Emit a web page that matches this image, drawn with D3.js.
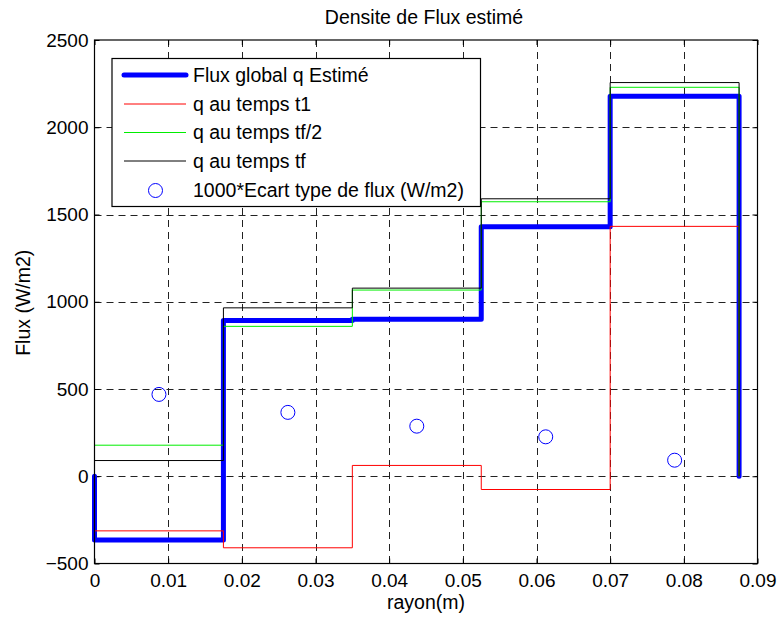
<!DOCTYPE html>
<html><head><meta charset="utf-8">
<script src="https://cdn.jsdelivr.net/npm/d3@7"></script>
<style>body{margin:0;background:#fff}svg{display:block;font-family:"Liberation Sans",Arial,sans-serif}</style>
</head><body><svg id="c" width="782" height="623"></svg>
<script>
const edges = [0, 0.0175, 0.035, 0.0525, 0.07, 0.0875];
const qEstime = [-365, 893, 900, 1430, 2177];
const qT1 = [-313, -410, 62, -76, 1432];
const qTf2 = [178, 859, 1067, 1573, 2229];
const qTf = [90, 965, 1078, 1590, 2256];
const ecartX = [0.00875, 0.02625, 0.04375, 0.06125, 0.07875];
const ecartY = [469, 366, 287, 226, 92];
const xTicks = [0, 0.01, 0.02, 0.03, 0.04, 0.05, 0.06, 0.07, 0.08, 0.09];
const yTicks = [-500, 0, 500, 1000, 1500, 2000, 2500];
const legendLabels = ["Flux global q Estimé", "q au temps t1", "q au temps tf/2", "q au temps tf", "1000*Ecart type de flux (W/m2)"];

const svg = d3.select("#c");
const L = 94.5, R = 757.5, T = 40, B = 563.5;
const x = d3.scaleLinear().domain([0, 0.09]).range([L, R]);
const y = d3.scaleLinear().domain([-500, 2500]).range([B, T]);

// grid
const g = svg.append("g");
g.selectAll(".gx").data(xTicks.slice(1, -1)).join("line")
  .attr("x1", d => Math.round(x(d)) + 0.5).attr("x2", d => Math.round(x(d)) + 0.5)
  .attr("y1", T).attr("y2", B).attr("stroke", "#222").attr("stroke-dasharray", "7,5");
g.selectAll(".gy").data(yTicks.slice(1, -1)).join("line")
  .attr("y1", d => Math.round(y(d)) + 0.5).attr("y2", d => Math.round(y(d)) + 0.5)
  .attr("x1", L).attr("x2", R).attr("stroke", "#222").attr("stroke-dasharray", "7,5");

// axes
const fsT = 19, fs = 19.5;
const xa = svg.append("g").attr("transform", `translate(0,${B})`)
  .call(d3.axisBottom(x).tickValues(xTicks).tickFormat(d => d === 0 ? "0" : d3.format(".2f")(d)).tickSizeInner(-5).tickSizeOuter(0).tickPadding(10));
const xt = svg.append("g").attr("transform", `translate(0,${T})`)
  .call(d3.axisTop(x).tickValues(xTicks).tickFormat("").tickSizeInner(-5).tickSizeOuter(0));
const ya = svg.append("g").attr("transform", `translate(${L},0)`)
  .call(d3.axisLeft(y).tickValues(yTicks).tickFormat(d3.format("d")).tickSizeInner(-5).tickSizeOuter(0).tickPadding(6));
const yr = svg.append("g").attr("transform", `translate(${R},0)`)
  .call(d3.axisRight(y).tickValues(yTicks).tickFormat("").tickSizeInner(-5).tickSizeOuter(0));
[xa, xt, ya, yr].forEach(a => {
  a.select(".domain").remove();
  a.selectAll("line").attr("stroke", "#000");
  a.selectAll("text").attr("font-size", fsT).attr("font-family", "Liberation Sans, Arial, sans-serif").attr("fill", "#000");
});

function stepPts(vals) {
  const p = [[edges[0], 0]];
  vals.forEach((v, i) => p.push([edges[i], v]));
  p.push([edges[edges.length - 1], 0]);
  return p;
}
const line = d3.line().x(d => x(d[0])).y(d => y(d[1])).curve(d3.curveStepAfter);

svg.append("path").attr("d", line(stepPts(qEstime))).attr("fill", "none")
  .attr("stroke", "#0000ff").attr("stroke-width", 5).attr("stroke-linejoin", "round").attr("stroke-linecap", "round");
svg.append("path").attr("d", line(stepPts(qT1))).attr("fill", "none").attr("stroke", "#ff0000").attr("stroke-width", 1);
svg.append("path").attr("d", line(stepPts(qTf2))).attr("fill", "none").attr("stroke", "#00ee00").attr("stroke-width", 1);
svg.append("path").attr("d", line(stepPts(qTf))).attr("fill", "none").attr("stroke", "#000").attr("stroke-width", 1);
svg.selectAll(".ec").data(ecartX).join("circle")
  .attr("cx", (d) => x(d)).attr("cy", (d, i) => y(ecartY[i])).attr("r", 7)
  .attr("fill", "none").attr("stroke", "#0000ff").attr("stroke-width", 1);

// box
svg.append("rect").attr("x", L).attr("y", T).attr("width", R - L).attr("height", B - T)
  .attr("fill", "none").attr("stroke", "#000").attr("stroke-width", 1.2);

// legend
const lg = svg.append("g");
lg.append("rect").attr("x", 112).attr("y", 58.5).attr("width", 368.5).attr("height", 148)
  .attr("fill", "#fff").attr("stroke", "#000").attr("stroke-width", 1.2);
const rowY = [75, 104, 132.5, 161, 190.5];
const styles = [
  {c: "#0000ff", w: 5}, {c: "#ff0000", w: 1}, {c: "#00ee00", w: 1}, {c: "#000", w: 1}, null
];
legendLabels.forEach((t, i) => {
  if (styles[i]) {
    lg.append("line").attr("x1", 124).attr("x2", 186).attr("y1", rowY[i]).attr("y2", rowY[i])
      .attr("stroke", styles[i].c).attr("stroke-width", styles[i].w).attr("stroke-linecap", i === 0 ? "round" : "butt");
  } else {
    lg.append("circle").attr("cx", 155.5).attr("cy", rowY[i]).attr("r", 7)
      .attr("fill", "none").attr("stroke", "#0000ff");
  }
  lg.append("text").attr("x", 193).attr("y", rowY[i]).attr("dy", "0.35em")
    .attr("font-size", fs).attr("fill", "#000").text(t);
});

// titles
svg.append("text").attr("x", (L + R) / 2 - 2).attr("y", 23.5).attr("text-anchor", "middle")
  .attr("font-size", fs).text("Densite de Flux estimé");
svg.append("text").attr("x", (L + R) / 2).attr("y", 609).attr("text-anchor", "middle")
  .attr("font-size", fs).text("rayon(m)");
svg.append("text").attr("transform", `translate(30,${(T + B) / 2 + 1}) rotate(-90)`).attr("text-anchor", "middle")
  .attr("font-size", fs).text("Flux (W/m2)");
</script></body></html>
